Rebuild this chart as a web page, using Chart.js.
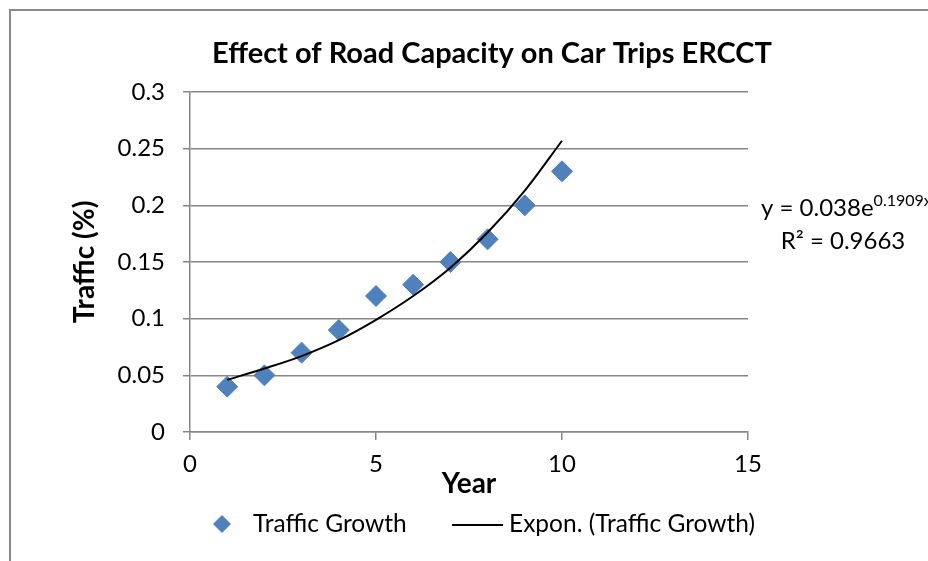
<!DOCTYPE html>
<html>
<head>
<meta charset="utf-8">
<script src="https://cdn.jsdelivr.net/npm/chart.js@4.4.1/dist/chart.umd.min.js"></script>
<style>
  html, body { margin: 0; padding: 0; background: #fff; }
  #wrap { position: relative; width: 928px; height: 561px; }
</style>
</head>
<body>
<div id="wrap"><canvas id="chart" width="928" height="561"></canvas></div>
<script>
// data
const years = [1, 2, 3, 4, 5, 6, 7, 8, 9, 10];
const trafficGrowth = [0.04, 0.05, 0.07, 0.09, 0.12, 0.13, 0.15, 0.17, 0.20, 0.23];
// exponential trendline as it appears in the picture
const trendValues = [0.046, 0.056, 0.067, 0.081, 0.099, 0.120, 0.145, 0.176, 0.213, 0.257];
const xTicks = [0, 5, 10, 15];
const yTicks = [0, 0.05, 0.1, 0.15, 0.2, 0.25, 0.3];

const chartTitle = 'Effect of Road Capacity on Car Trips ERCCT';
const seriesLabel = 'Traffic Growth';
const trendLabel = 'Expon. (Traffic Growth)';
const equationMain = 'y = 0.038e';
const equationExp = '0.1909x';
const rSquared = 'R\u00B2 = 0.9663';

const FONT = 'Lato, "Open Sans", sans-serif';
const GRID = '#878787';
const BLUE = '#4F81BD';

// frame, title, equation and legend drawn on the canvas
const decorations = {
    id: 'decorations',
    afterDraw(chart) {
        const ctx = chart.ctx;
        ctx.save();

        // outer frame (left and top edge are visible)
        ctx.strokeStyle = '#8a8a8a';
        ctx.lineWidth = 2;
        ctx.beginPath();
        ctx.moveTo(10, 561);
        ctx.lineTo(10, 10);
        ctx.lineTo(928, 10);
        ctx.stroke();

        ctx.fillStyle = '#000';
        ctx.textBaseline = 'alphabetic';

        // title
        ctx.font = 'bold 29px ' + FONT;
        ctx.textAlign = 'center';
        ctx.fillText(chartTitle, 492, 63);

        // trendline equation
        ctx.font = '24px ' + FONT;
        ctx.textAlign = 'left';
        ctx.fillText(equationMain, 761, 216);
        const w = ctx.measureText(equationMain).width;
        ctx.font = '16px ' + FONT;
        ctx.fillText(equationExp, 761 + w, 206);
        ctx.font = '24px ' + FONT;
        ctx.textAlign = 'center';
        ctx.fillText(rSquared, 843, 249);

        // legend
        const ly = 524;
        ctx.fillStyle = BLUE;
        ctx.beginPath();
        ctx.moveTo(222, ly - 9);
        ctx.lineTo(231, ly);
        ctx.lineTo(222, ly + 9);
        ctx.lineTo(213, ly);
        ctx.closePath();
        ctx.fill();

        ctx.strokeStyle = '#000';
        ctx.lineWidth = 2;
        ctx.beginPath();
        ctx.moveTo(452, ly + 1);
        ctx.lineTo(503, ly + 1);
        ctx.stroke();

        ctx.fillStyle = '#000';
        ctx.font = '24.5px ' + FONT;
        ctx.textAlign = 'left';
        ctx.textBaseline = 'middle';
        ctx.fillText(seriesLabel, 253, ly);
        ctx.fillText(trendLabel, 509, ly);

        ctx.restore();
    }
};

new Chart(document.getElementById('chart'), {
    type: 'scatter',
    data: {
        datasets: [
            {
                label: seriesLabel,
                data: years.map((x, i) => ({ x: x, y: trafficGrowth[i] })),
                pointStyle: 'rectRot',
                pointRadius: 10.5,
                pointHoverRadius: 10.5,
                backgroundColor: BLUE,
                borderColor: BLUE,
                borderWidth: 1,
                order: 2
            },
            {
                label: trendLabel,
                type: 'line',
                data: years.map((x, i) => ({ x: x, y: trendValues[i] })),
                borderColor: '#000',
                borderWidth: 2,
                pointRadius: 0,
                fill: false,
                cubicInterpolationMode: 'monotone',
                order: 1
            }
        ]
    },
    options: {
        responsive: false,
        animation: false,
        layout: { padding: { left: 10, top: 92, right: 180, bottom: 0 } },
        plugins: {
            legend: { display: false },
            title: { display: false },
            tooltip: { enabled: false }
        },
        scales: {
            x: {
                type: 'linear',
                min: 0,
                max: 15,
                afterBuildTicks: scale => { scale.ticks = xTicks.map(v => ({ value: v })); },
                afterFit: scale => { scale.height = 129; },
                grid: { drawOnChartArea: false, drawTicks: true, tickLength: 8, color: GRID, lineWidth: 1.5 },
                border: { color: GRID, width: 1.5 },
                ticks: { color: '#000', font: { family: FONT, size: 24 }, padding: 10 },
                title: {
                    display: true,
                    text: 'Year',
                    color: '#000',
                    font: { family: FONT, size: 28, weight: 'bold' },
                    padding: { top: 0, bottom: 60 }
                }
            },
            y: {
                min: 0,
                max: 0.3,
                afterBuildTicks: scale => { scale.ticks = yTicks.map(v => ({ value: v })); },
                afterFit: scale => { scale.width = 180; },
                grid: { drawTicks: true, tickLength: 7, color: GRID, lineWidth: 1.5 },
                border: { color: GRID, width: 1.5 },
                ticks: {
                    color: '#000',
                    font: { family: FONT, size: 24 },
                    padding: 18,
                    callback: v => String(+Number(v).toFixed(2))
                },
                title: {
                    display: true,
                    text: 'Traffic (%)',
                    color: '#000',
                    font: { family: FONT, size: 28, weight: 'bold' },
                    padding: { top: 58, bottom: 4 }
                }
            }
        }
    },
    plugins: [decorations]
});
</script>
</body>
</html>
